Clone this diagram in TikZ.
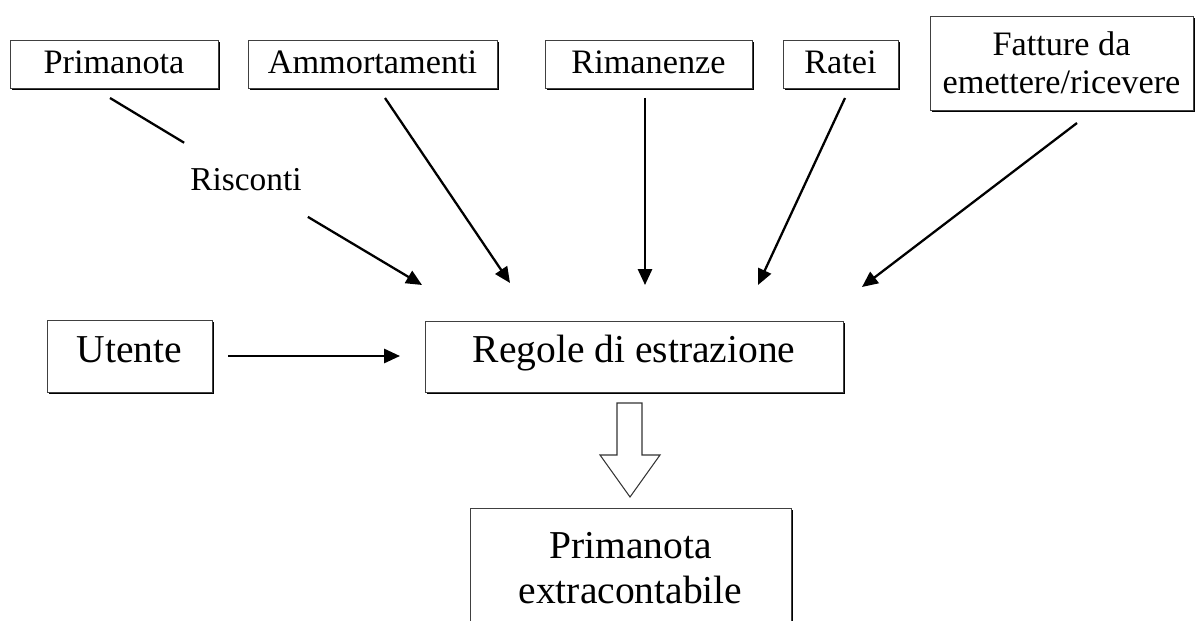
\documentclass[tikz,border=0pt]{standalone}
\usepackage{fontspec}
\setmainfont{Liberation Serif}
\usetikzlibrary{arrows.meta,shadows}

\tikzset{
  box/.style={draw=black!75, line width=0.5pt, fill=white, inner sep=0pt, align=center,
    drop shadow={shadow xshift=1pt, shadow yshift=-1pt, opacity=1, fill=black}},
  topbox/.style={box, font=\fontsize{19.5}{21.5}\selectfont, minimum height=0.96cm},
  lowbox/.style={box, font=\fontsize{22.5}{25.5}\selectfont},
  arr/.style={line width=1.3pt, -{Triangle[length=9pt,width=8pt]}}
}

\begin{document}
\begin{tikzpicture}[x=0.02cm, y=-0.02cm]
\path[use as bounding box, clip] (0,0) rectangle (1195,621);

% top row of sources
\node[topbox, minimum width=4.16cm, text height=0.68cm, text depth=0.28cm] (prim) at (114,64) {Primanota};
\node[topbox, minimum width=4.98cm, text height=0.68cm, text depth=0.28cm] (amm) at (372.5,64) {Ammortamenti};
\node[topbox, minimum width=4.14cm, text height=0.68cm, text depth=0.28cm] (rim) at (648.5,64) {Rimanenze};
\node[topbox, minimum width=2.3cm, text height=0.68cm, text depth=0.28cm] (rat) at (840.5,64) {Ratei};
\node[topbox, minimum width=5.26cm, minimum height=1.88cm] (fat) at (1061.5,63) {Fatture da\\emettere/ricevere};

% middle row
\node[lowbox, minimum width=3.3cm, text height=0.84cm, text depth=0.6cm] (ute) at (129.5,356) {Utente};
\node[lowbox, minimum width=8.36cm, text height=0.82cm, text depth=0.6cm] (reg) at (634,356.5) {Regole di estrazione};

% result
\node[lowbox, minimum width=6.42cm, minimum height=2.4cm] (ext) at (630.5,568) {Primanota\\extracontabile};

% label on the first arrow
\node[font=\fontsize{19}{21}\selectfont, minimum width=2.36cm, minimum height=1.6cm] (risc) at (246,180) {Risconti};

% arrow ends
\coordinate (s1) at (110,98);
\coordinate (t1) at (422,285);
\coordinate (s2) at (385,98);
\coordinate (t2) at (510,283);
\coordinate (s3) at (645,98);
\coordinate (t3) at (645,285);
\coordinate (s4) at (845,98);
\coordinate (t4) at (758,285);
\coordinate (s5) at (1077,123);
\coordinate (t5) at (862,287);
\coordinate (s6) at (228,356);
\coordinate (t6) at (400,356);

\draw[line width=1.3pt] (s1) -- (risc);
\draw[arr] (risc) -- (t1);
\draw[arr] (s2) -- (t2);
\draw[arr] (s3) -- (t3);
\draw[arr] (s4) -- (t4);
\draw[arr] (s5) -- (t5);
\draw[arr] (s6) -- (t6);

% block arrow
\draw[line width=0.6pt, draw=black!80] (617,403) -- (642,403) -- (642,455) -- (660,455)
  -- (630,497) -- (600,455) -- (617,455) -- cycle;
\end{tikzpicture}
\end{document}
